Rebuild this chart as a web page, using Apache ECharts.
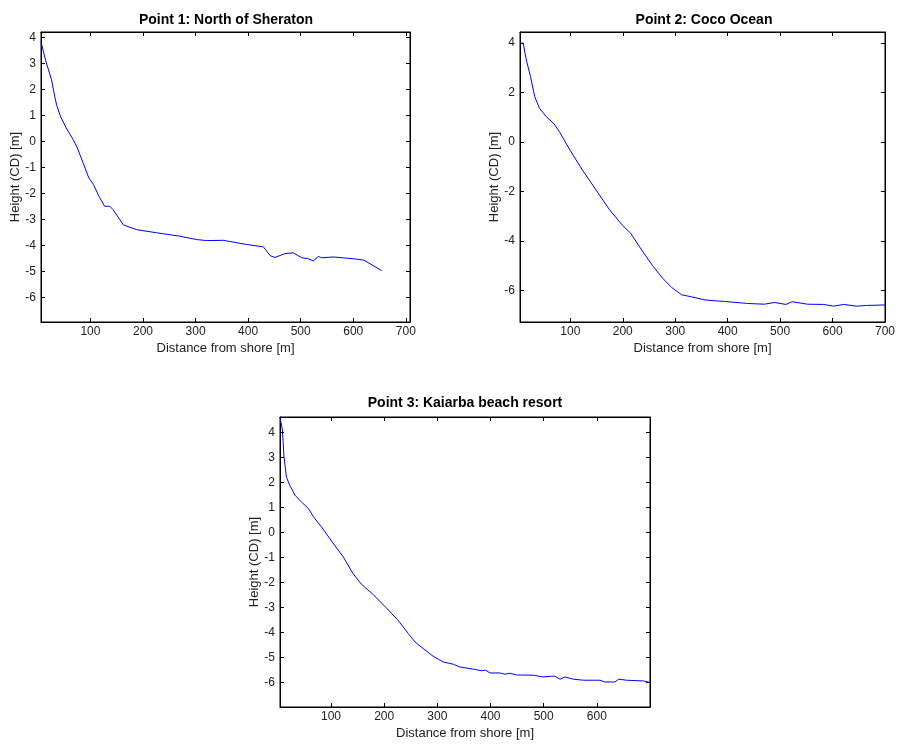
<!DOCTYPE html>
<html lang="en">
<head>
    <meta charset="UTF-8">
    <title>Beach profiles</title>
    <script src="https://cdn.jsdelivr.net/npm/echarts@6/dist/echarts.min.js"></script>
</head>
<style>
html,body{margin:0;padding:0;background:#fff;}
#chartBox{width:898px;height:744px;}
</style>
<body>
    <div id="chartBox"></div>
</body>
<script>
// profile data
const titles = ['Point 1: North of Sheraton', 'Point 2: Coco Ocean', 'Point 3: Kaiarba beach resort'];

const dist1 = [6, 16, 26, 32, 36, 43, 54, 67, 75, 86, 97, 106, 116, 127, 137, 143, 163, 188, 226, 270, 302, 321, 353, 397, 429, 442, 451, 470, 486, 502, 515, 524, 534, 540, 563, 601, 620, 654];
const height1 = [3.81, 3.02, 2.37, 1.73, 1.37, 0.96, 0.51, 0.07, -0.25, -0.83, -1.41, -1.67, -2.11, -2.5, -2.5, -2.63, -3.22, -3.4, -3.52, -3.65, -3.78, -3.82, -3.81, -3.97, -4.06, -4.4, -4.47, -4.32, -4.29, -4.48, -4.52, -4.6, -4.43, -4.48, -4.45, -4.52, -4.57, -4.97];

const dist2 = [4, 10, 16, 24, 32, 41, 54, 69, 79, 100, 123, 149, 174, 199, 215, 237, 256, 276, 293, 312, 331, 357, 394, 438, 470, 489, 511, 523, 552, 583, 602, 621, 646, 665, 700];
const height2 = [4.0, 4.0, 3.32, 2.65, 1.84, 1.37, 1.03, 0.73, 0.42, -0.35, -1.13, -1.94, -2.72, -3.36, -3.69, -4.4, -4.98, -5.51, -5.88, -6.18, -6.26, -6.39, -6.45, -6.53, -6.56, -6.49, -6.57, -6.46, -6.56, -6.57, -6.64, -6.57, -6.64, -6.61, -6.59];

const dist3 = [4, 8.5, 11.5, 16, 22, 32, 44, 57, 69, 82, 101, 123, 141, 157, 179, 204, 226, 245, 258, 273, 292, 311, 330, 342, 368, 383, 391, 399, 418, 427, 437, 449, 481, 499, 515, 521, 531, 540, 556, 575, 606, 615, 634, 641, 656, 688, 700];
const height3 = [4.6, 4.09, 3.02, 2.22, 1.89, 1.49, 1.22, 0.96, 0.56, 0.22, -0.35, -0.98, -1.64, -2.07, -2.48, -3.02, -3.51, -4.04, -4.38, -4.64, -4.95, -5.18, -5.27, -5.38, -5.47, -5.53, -5.51, -5.62, -5.62, -5.67, -5.63, -5.7, -5.71, -5.78, -5.75, -5.75, -5.87, -5.78, -5.87, -5.91, -5.91, -5.98, -5.98, -5.87, -5.91, -5.94, -6.0];

// tick labels
const xTicks1 = [100, 200, 300, 400, 500, 600, 700];
const xTicks2 = [100, 200, 300, 400, 500, 600, 700];
const xTicks3 = [100, 200, 300, 400, 500, 600];
const yTicks1 = [-6, -5, -4, -3, -2, -1, 0, 1, 2, 3, 4];
const yTicks2 = [-6, -4, -2, 0, 2, 4];
const yTicks3 = [-6, -5, -4, -3, -2, -1, 0, 1, 2, 3, 4];

const FONT = 'Liberation Sans, Arial, sans-serif';
const TICKFONT = 'Liberation Sans Narrow, Liberation Sans, Arial, sans-serif';

// panel layout + axis limits
const panels = [
    {grid: {left: 41, top: 32, width: 369, height: 290}, x: [6, 708], y: [-6.95, 4.2], xt: xTicks1, yt: yTicks1, dx: dist1, dy: height1, tx: 226, ty: 13},
    {grid: {left: 520, top: 32, width: 368, height: 290}, x: [4, 700], y: [-7.28, 4.45], xt: xTicks2, yt: yTicks2, dx: dist2, dy: height2, tx: 704, ty: 13},
    {grid: {left: 280, top: 417, width: 370, height: 290}, x: [4, 700], y: [-6.98, 4.61], xt: xTicks3, yt: yTicks3, dx: dist3, dy: height3, tx: 465, ty: 396}
];

function makeOption() {
    let grid = [], xAxis = [], yAxis = [], series = [], title = [];
    panels.forEach(function (p, i) {
        grid.push(Object.assign({show: true, borderColor: '#000', borderWidth: 1, backgroundColor: '#fff'}, p.grid));
        title.push({
            text: titles[i],
            left: p.tx,
            top: p.ty,
            textAlign: 'center',
            padding: 0,
            textStyle: {fontFamily: FONT, fontSize: 14, fontWeight: 'bold', color: '#000'}
        });
        let tick = {show: true, inside: true, length: 4, lineStyle: {color: '#000'}};
        let line = {show: true, onZero: false, lineStyle: {color: '#000'}};
        // bottom / left with labels
        xAxis.push({
            type: 'value', gridIndex: i, min: p.x[0], max: p.x[1], position: 'bottom',
            name: 'Distance from shore [m]', nameLocation: 'middle', nameGap: 20,
            nameTextStyle: {fontFamily: FONT, fontSize: 13, color: '#222'},
            axisLine: line,
            axisTick: Object.assign({customValues: p.xt}, tick),
            axisLabel: {customValues: p.xt, fontFamily: TICKFONT, fontSize: 12, color: '#222', margin: 4},
            splitLine: {show: false}
        });
        yAxis.push({
            type: 'value', gridIndex: i, min: p.y[0], max: p.y[1], position: 'left',
            name: 'Height (CD) [m]', nameLocation: 'middle', nameGap: 16,
            nameTextStyle: {fontFamily: FONT, fontSize: 13, color: '#222'},
            axisLine: line,
            axisTick: Object.assign({customValues: p.yt}, tick),
            axisLabel: {customValues: p.yt, fontFamily: TICKFONT, fontSize: 12, color: '#222', margin: 5},
            splitLine: {show: false}
        });
        // top / right, ticks only
        xAxis.push({
            type: 'value', gridIndex: i, min: p.x[0], max: p.x[1], position: 'top',
            axisLine: line,
            axisTick: Object.assign({customValues: p.xt}, tick),
            axisLabel: {show: false}, splitLine: {show: false}
        });
        yAxis.push({
            type: 'value', gridIndex: i, min: p.y[0], max: p.y[1], position: 'right',
            axisLine: line,
            axisTick: Object.assign({customValues: p.yt}, tick),
            axisLabel: {show: false}, splitLine: {show: false}
        });
        series.push({
            type: 'line',
            xAxisIndex: i * 2,
            yAxisIndex: i * 2,
            symbol: 'none',
            clip: true,
            lineStyle: {color: '#0000ff', width: 1},
            data: p.dx.map(function (d, k) { return [d, p.dy[k]]; })
        });
    });
    return {animation: false, backgroundColor: '#fff', title: title, grid: grid, xAxis: xAxis, yAxis: yAxis, series: series};
}

let chartObj = echarts.init(document.getElementById('chartBox'), null, {renderer: 'canvas'});
chartObj.setOption(makeOption());
</script>
</html>
